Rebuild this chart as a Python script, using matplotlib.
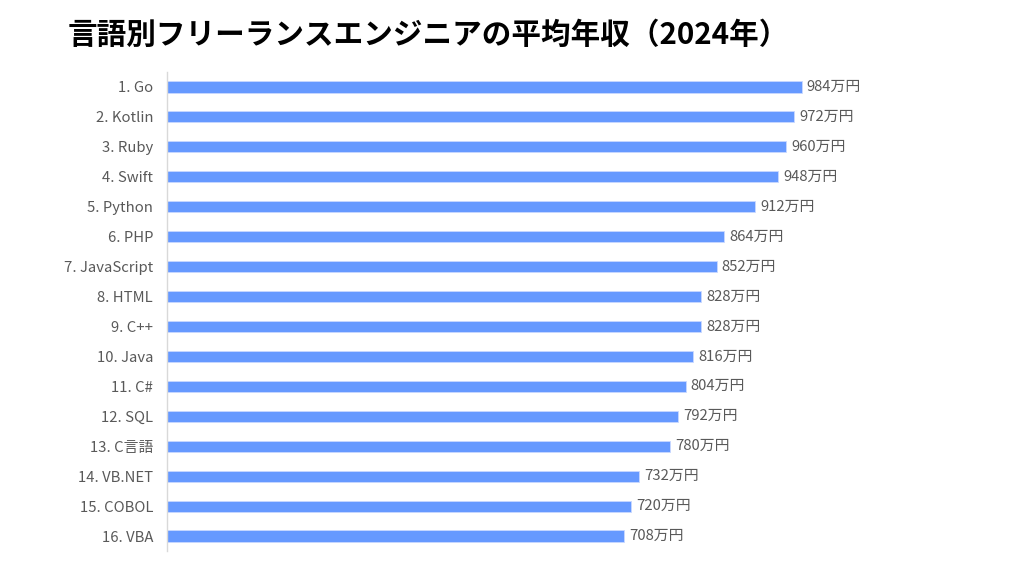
import matplotlib
matplotlib.use("Agg")
import matplotlib.pyplot as plt

plt.rcParams['font.family'] = ['Noto Sans CJK JP', 'DejaVu Sans']

languages = ["1. Go", "2. Kotlin", "3. Ruby", "4. Swift", "5. Python", "6. PHP",
             "7. JavaScript", "8. HTML", "9. C++", "10. Java", "11. C#", "12. SQL",
             "13. C言語", "14. VB.NET", "15. COBOL", "16. VBA"]
salary = [984, 972, 960, 948, 912, 864, 852, 828, 828, 816, 804, 792, 780, 732, 720, 708]
title = "言語別フリーランスエンジニアの平均年収（2024年）"

fig = plt.figure(figsize=(10.24, 5.76), dpi=100)
ax = fig.add_axes([167 / 1024, 1 - 551 / 576, 703 / 1024, 479 / 576])

y = list(range(len(languages)))
ax.barh(y, salary, height=0.37, color="#6699ff", edgecolor="#c9d9ff", linewidth=0.6)
for yi, v in zip(y, salary):
    ax.text(v + 8, yi, f"{v}万円", va="center", ha="left", fontsize=10.7, color="#595959")

ax.set_xlim(0, 1090)
ax.set_ylim(len(languages) - 0.5, -0.5)
ax.set_yticks(y)
ax.set_yticklabels(languages, fontsize=10.7, color="#595959")
ax.tick_params(axis="y", length=0, pad=10)
ax.set_xticks([])
for s in ["top", "right", "bottom"]:
    ax.spines[s].set_visible(False)
ax.spines["left"].set_color("#d9d9d9")
ax.spines["left"].set_linewidth(1)

fig.text(68 / 1024, 1 - 35 / 576, title, fontsize=21.3, fontweight="bold",
         color="black", ha="left", va="center")

fig.savefig("out.png", dpi=100)
